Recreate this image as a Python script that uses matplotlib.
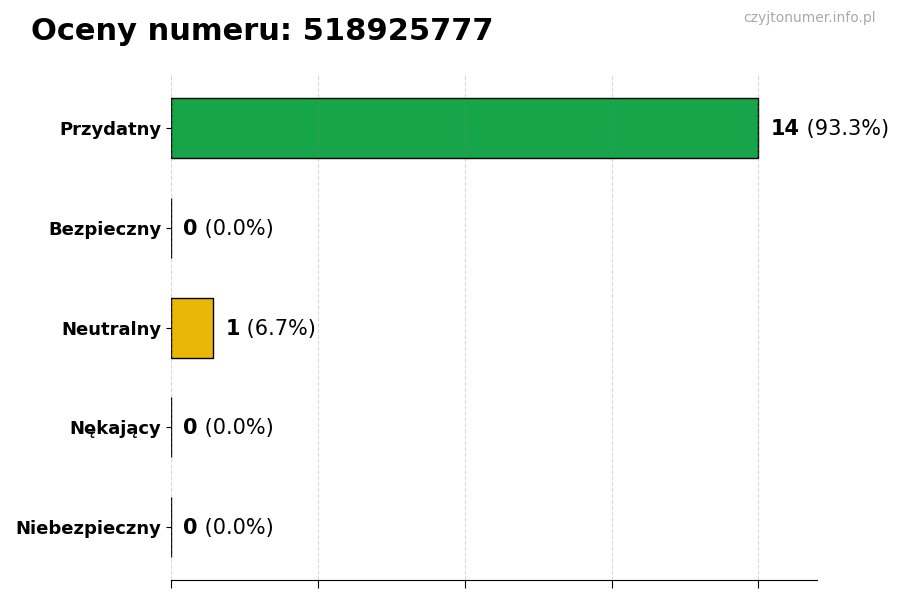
import numpy as np
import matplotlib
matplotlib.use('Agg')
import matplotlib.pyplot as plt

# Data
categories = ['Przydatny', 'Bezpieczny', 'Neutralny', 'Nękający', 'Niebezpieczny']
counts = [14, 0, 1, 0, 0]
colors = ['#17a54a', '#7ccc4a', '#e9b708', '#f07c1e', '#d7262b']
title = 'Oceny numeru: 518925777'
watermark = 'czyjtonumer.info.pl'

total = sum(counts)
max_val = max(counts)

fig = plt.figure(figsize=(9, 6), dpi=100)
ax = fig.add_axes([0.19, 0.033, 0.718, 0.842])

y = np.arange(len(categories))
ax.barh(y, counts, height=0.6, color=colors, edgecolor='black', linewidth=1, zorder=2)
ax.invert_yaxis()

ax.set_yticks(y)
ax.set_yticklabels(categories, fontsize=13, fontweight='bold')
ax.set_xlim(0, max_val * 1.1)
ax.set_xticks(np.linspace(0, max_val, 5))
ax.set_xticklabels([])
ax.tick_params(axis='x', length=6)

# faint dashed grid, drawn over the bars like in the original
ax.grid(axis='x', linestyle='--', color='gray', alpha=0.3, linewidth=0.8, zorder=3)
ax.set_axisbelow(False)
for side in ['top', 'right', 'left']:
    ax.spines[side].set_visible(False)

# Value labels: bold count + normal percentage
for yi, c in zip(y, counts):
    pct = c / total * 100
    t1 = ax.text(c + max_val * 0.021, yi + 0.01, str(c), fontsize=15, fontweight='bold',
                 va='center', ha='left')
    ax.annotate(' (%.1f%%)' % pct, xy=(1, 0), xycoords=t1, fontsize=15,
                va='bottom', ha='left')

fig.text(0.034, 0.947, title, fontsize=22, fontweight='bold', va='center', ha='left')
fig.text(0.973, 0.97, watermark, fontsize=10, color='#aaaaaa', va='center', ha='right')

fig.savefig('out.png', dpi=100)
